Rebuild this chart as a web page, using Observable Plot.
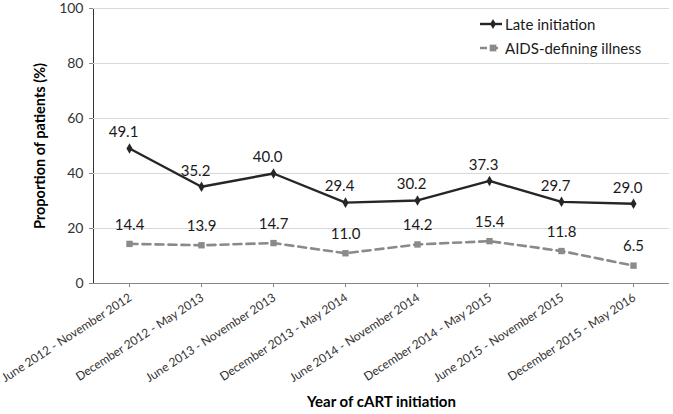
<!DOCTYPE html>
<html>
<head>
<meta charset="utf-8">
<script src="https://cdn.jsdelivr.net/npm/d3@7"></script>
<script src="https://cdn.jsdelivr.net/npm/@observablehq/plot@0.6"></script>
<style>
  html, body { margin: 0; padding: 0; background: #fff; }
  #wrap { position: relative; width: 673px; height: 414px; font-family: Lato, "Open Sans", sans-serif; }
  #legend { position: absolute; left: 480px; top: 12px; font-size: 15px; color: #1a1a1a; }
  #legend .row { display: flex; align-items: center; height: 24px; }
  #legend svg { margin-right: 3px; }
</style>
</head>
<body>
<div id="wrap">
  <div id="chart"></div>
  <div id="legend"></div>
</div>
<script>
const periods = [
  "June 2012 - November 2012",
  "December 2012 - May 2013",
  "June 2013 - November 2013",
  "December 2013 - May 2014",
  "June 2014 - November 2014",
  "December 2014 - May 2015",
  "June 2015 - November 2015",
  "December 2015 - May 2016"
];
const lateInitiation = [49.1, 35.2, 40.0, 29.4, 30.2, 37.3, 29.7, 29.0];
const aidsDefining = [14.4, 13.9, 14.7, 11.0, 14.2, 15.4, 11.8, 6.5];
const yTicks = [0, 20, 40, 60, 80, 100];
const seriesNames = ["Late initiation", "AIDS-defining illness"];

const late = periods.map((p, i) => ({period: p, value: lateInitiation[i]}));
const aids = periods.map((p, i) => ({period: p, value: aidsDefining[i]}));

const darkC = "#262626";
const grayC = "#8a8a8a";
const font = "Lato, 'Open Sans', sans-serif";

const chart = Plot.plot({
  width: 673,
  height: 414,
  marginLeft: 93,
  marginRight: 4,
  marginTop: 8,
  marginBottom: 131,
  style: {fontFamily: font, fontSize: "12px", color: "#333", background: "#fff"},
  x: {type: "point", domain: periods, padding: 0.5, label: null, tickSize: 4, tickFormat: () => ""},
  y: {domain: [0, 100], ticks: yTicks, label: null, tickSize: 4, tickPadding: 6, line: true, tickFormat: d => d},
  marks: [
    Plot.gridY(yTicks.filter(d => d > 0), {stroke: "#d9d9d9", strokeOpacity: 1}),
    Plot.ruleY([0], {stroke: "#868686"}),
    Plot.text(periods, {x: d => d, frameAnchor: "bottom", rotate: -33, textAnchor: "end", lineAnchor: "middle", dy: 13, dx: 1, fontSize: 12, fill: "#333"}),
    Plot.line(aids, {x: "period", y: "value", stroke: grayC, strokeWidth: 2.6, strokeDasharray: "8,5"}),
    Plot.dot(aids, {x: "period", y: "value", symbol: "square", r: 3.6, fill: grayC, stroke: "none"}),
    Plot.line(late, {x: "period", y: "value", stroke: darkC, strokeWidth: 2.4}),
    Plot.dot(late, {x: "period", y: "value", symbol: "diamond", r: 3.2, fill: darkC, stroke: "none"}),
    Plot.text(late, {x: "period", y: "value", text: d => d.value.toFixed(1), dy: -16, dx: -6, fontSize: 15, fill: "#1a1a1a"}),
    Plot.text(aids, {x: "period", y: "value", text: d => d.value.toFixed(1), dy: -19, fontSize: 15, fill: "#1a1a1a"}),
    Plot.text(["Proportion of patients (%)"], {frameAnchor: "left", textAnchor: "middle", dx: -53, rotate: -90, fontSize: 14.5, fontWeight: "bold", fill: "#000"}),
    Plot.text(["Year of cART initiation"], {frameAnchor: "bottom", textAnchor: "middle", dy: 123, fontSize: 15, fontWeight: "bold", fill: "#000"})
  ]
});
document.getElementById("chart").appendChild(chart);

// axis styling
const sel = d3.select(chart);
sel.selectAll("[aria-label='y-axis'] path, [aria-label='y-axis tick'] path, [aria-label='x-axis tick'] path, [aria-label='y-axis'] line").attr("stroke", "#868686");
sel.selectAll("[aria-label='y-axis tick label'] text, [aria-label='y-axis'] text").style("font-size", "14px");

// legend
const legend = d3.select("#legend");
const swatches = [
  {name: seriesNames[0], color: darkC, dash: null, sym: "diamond", w: 2.4},
  {name: seriesNames[1], color: grayC, dash: "8,5", sym: "square", w: 2.6}
];
for (const s of swatches) {
  const row = legend.append("div").attr("class", "row");
  const svg = row.append("svg").attr("width", 22).attr("height", 12);
  svg.append("line").attr("x1", 0).attr("x2", 22).attr("y1", 6).attr("y2", 6)
    .attr("stroke", s.color).attr("stroke-width", s.w).attr("stroke-dasharray", s.dash ? "7,4" : null);
  const sym = d3.symbol(s.sym === "diamond" ? d3.symbolDiamond : d3.symbolSquare, s.sym === "diamond" ? 30 : 45)();
  svg.append("path").attr("d", sym).attr("transform", "translate(13,6)").attr("fill", s.color);
  row.append("span").text(s.name);
}
</script>
</body>
</html>
